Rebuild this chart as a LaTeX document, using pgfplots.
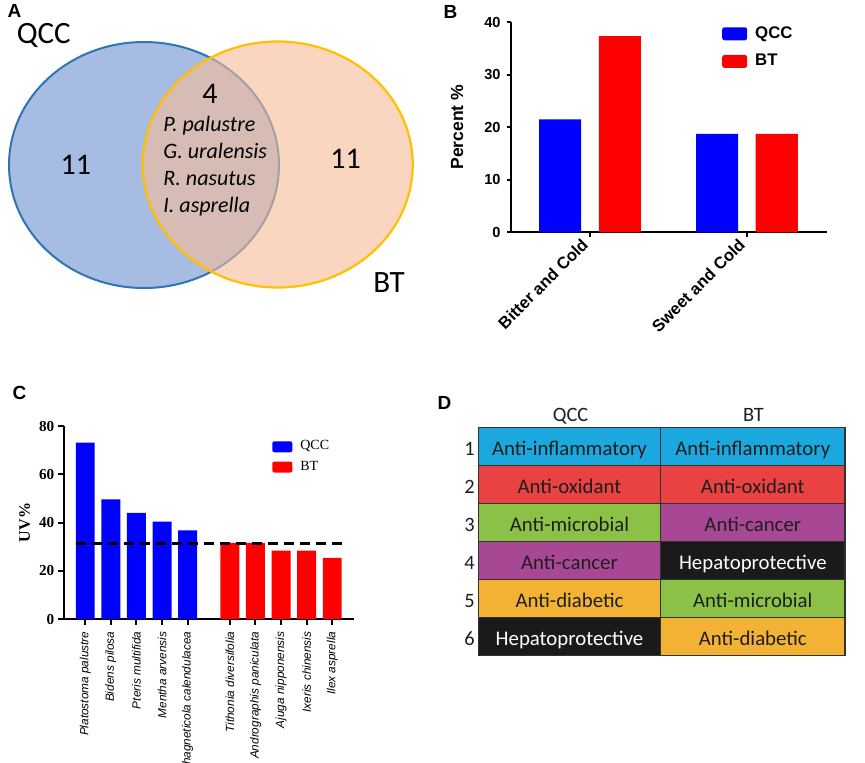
\documentclass[border=0pt]{standalone}
\usepackage{fontspec}
\usepackage{pgfplots}
\pgfplotsset{compat=1.18}
\setmainfont{Liberation Sans}
\newfontfamily\calibri{Carlito}
\newfontfamily\arial{Liberation Sans}
\newfontfamily\tnr{Liberation Serif}

\definecolor{qccblue}{RGB}{0,0,255}
\definecolor{btred}{RGB}{255,0,0}
\definecolor{vennblue}{RGB}{166,188,226}
\definecolor{vennblueedge}{RGB}{46,117,182}
\definecolor{vennorange}{RGB}{247,188,150}
\definecolor{vennorangeedge}{RGB}{255,192,0}
\definecolor{cCyan}{RGB}{27,168,222}
\definecolor{cRed}{RGB}{232,66,66}
\definecolor{cGreen}{RGB}{140,193,72}
\definecolor{cPurple}{RGB}{168,72,148}
\definecolor{cOrange}{RGB}{243,178,52}
\definecolor{cBlack}{RGB}{26,26,26}
\definecolor{cText}{RGB}{30,30,30}
\definecolor{cEdge}{RGB}{50,50,50}

\newcommand\fs[1]{\fontsize{#1}{#1}\selectfont}

% 1 px of the reference = 0.5pt, y runs downwards as negative
\begin{document}
\begin{tikzpicture}
\useasboundingbox (0,0) rectangle (432.5pt,-381pt);
\clip (0,0) rectangle (432.5pt,-381pt);
\fill[white] (0,0) rectangle (432.5pt,-381pt);

% panel letters
\node[font=\arial\bfseries\fs{9.5}] at (7.25pt,-5.4pt) {A};
\node[font=\arial\bfseries\fs{9.5}] at (225.25pt,-5.75pt) {B};
\node[font=\arial\bfseries\fs{9.5}] at (9.8pt,-196.7pt) {C};
\node[font=\arial\bfseries\fs{9.5}] at (222.25pt,-201.25pt) {D};

% ---------- A: Venn
\fill[vennblue] (72pt,-82.5pt) ellipse [x radius=67.5pt, y radius=61.5pt];
\draw[vennblueedge, line width=1pt] (72pt,-82.5pt) ellipse [x radius=67.5pt, y radius=61.5pt];
\fill[vennorange, fill opacity=0.6] (138.85pt,-82.25pt) ellipse [x radius=67.5pt, y radius=61.5pt];
\draw[vennorangeedge, line width=1.1pt] (138.85pt,-82.25pt) ellipse [x radius=67.5pt, y radius=61.5pt];

\node[font=\calibri\fs{15.5}] at (21.9pt,-17.9pt) {QCC};
\node[font=\calibri\fs{15.5}] at (194.5pt,-141.5pt) {BT};
\node[font=\calibri\fs{15}] at (37.9pt,-82.5pt) {11};
\node[font=\calibri\fs{15}] at (172.75pt,-79.3pt) {11};
\node[font=\calibri\fs{15}] at (105pt,-47pt) {4};
\begin{scope}[every node/.style={anchor=base west, inner sep=0pt, font=\calibri\itshape\fs{11}}]
\node at (81.5pt,-65.85pt) {P. palustre};
\node at (81.5pt,-79.15pt) {G. uralensis};
\node at (81.5pt,-92.85pt) {R. nasutus};
\node at (81.5pt,-106.35pt) {I. asprella};
\end{scope}

% ---------- B: bar chart
\begin{axis}[
  at={(255.5pt,-116.15pt)}, anchor=south west,
  width=158pt, height=105.15pt, scale only axis,
  ybar, bar width=0.268,
  xmin=-0.503, xmax=1.51, ymin=0, ymax=40,
  axis lines=left, axis line style={-, line width=1pt},
  tick style={line width=1pt, black}, tick align=outside,
  major tick length=2.2pt,
  xtick={0,1}, xticklabels={Bitter and Cold, Sweet and Cold},
  ytick={0,10,20,30,40},
  /pgf/number format/assume math mode=true,
  yticklabel style={font=\arial\bfseries\fs{7.3}, xshift=0.5pt},
  xticklabel style={font=\arial\bfseries\fs{8.3}, rotate=45, anchor=east},
  ylabel={Percent \%},
  ylabel style={font=\arial\bfseries\fs{8.8}, at={(axis description cs:-0.171,0.5)}, anchor=center},
  legend style={at={(0.667,1.0)}, anchor=north west, draw=none, fill=none,
    font=\arial\bfseries\fs{8.4}, row sep=2.5pt, inner sep=0pt},
  legend cell align=left,
  legend image code/.code={\fill[rounded corners=1.2pt] (0pt,-3.25pt) rectangle (12.5pt,3.25pt);
    \path (14.5pt,0pt);},
]
\addplot[fill=qccblue, draw=none, bar shift=-0.19] coordinates {(0,21.5) (1,18.7)};
\addplot[fill=btred, draw=none, bar shift=0.19] coordinates {(0,37.3) (1,18.7)};
\legend{QCC, BT}
\end{axis}

% ---------- C: UV% bar chart
\begin{axis}[
  at={(32pt,-309.5pt)}, anchor=south west,
  width=145pt, height=96.5pt, scale only axis,
  xmin=-0.83, xmax=10.5, ymin=0, ymax=80,
  axis lines=left, axis line style={-, line width=1pt},
  tick style={line width=1pt, black}, tick align=outside,
  major tick length=2.8pt,
  xtick={0,1,2,3,4,5.65,6.65,7.65,8.65,9.65},
  xticklabels={Platostoma palustre, Bidens pilosa, Pteris multifida, Mentha arvensis,
    Sphagneticola calendulacea, Tithonia diversifolia, Andrographis paniculata,
    Ajuga nipponensis, Ixeris chinensis, Ilex asprella},
  ytick={0,20,40,60,80},
  /pgf/number format/assume math mode=true,
  yticklabel style={font=\tnr\bfseries\fs{7.6}, xshift=1.5pt},
  xticklabel style={font=\arial\itshape\fs{5.9}, rotate=90, anchor=east},
  ylabel={UV\%},
  ylabel style={font=\tnr\bfseries\fs{8}, at={(axis description cs:-0.136,0.5)}, anchor=center},
  legend style={at={(0.717,0.947)}, anchor=north west, draw=none, fill=none,
    font=\tnr\fs{7}, row sep=0pt, inner sep=0pt},
  legend cell align=left,
  legend image code/.code={\fill[rounded corners=1pt] (0pt,-2.75pt) rectangle (10pt,2.75pt);
    \path (12pt,0pt);},
]
\addplot[ybar, bar width=0.74, bar shift=0, fill=qccblue, draw=none]
  coordinates {(0,73.1) (1,49.6) (2,44.0) (3,40.4) (4,36.7)};
\addplot[ybar, bar width=0.74, bar shift=0, fill=btred, draw=none]
  coordinates {(5.65,31.6) (6.65,31.6) (7.65,28.4) (8.65,28.4) (9.65,25.3)};
\addplot[black, line width=1.4pt, dash pattern=on 5pt off 3pt, forget plot]
  coordinates {(-0.36,31.4) (10.26,31.4)};
\legend{QCC, BT}
\end{axis}

% ---------- D: table of activities
\node[anchor=base, font=\calibri\fs{10.2}, text=cText] at (285.25pt,-210.85pt) {QCC};
\node[anchor=base, font=\calibri\fs{10.2}, text=cText] at (376.7pt,-210.85pt) {BT};
\foreach \r/\ca/\ka/\ta/\cb/\kb/\tb in {
  0/cCyan/cText/Anti-inflammatory/cCyan/cText/Anti-inflammatory,
  1/cRed/cText/Anti-oxidant/cRed/cText/Anti-oxidant,
  2/cGreen/cText/Anti-microbial/cPurple/cText/Anti-cancer,
  3/cPurple/cText/Anti-cancer/cBlack/white/Hepatoprotective,
  4/cOrange/cText/Anti-diabetic/cGreen/cText/Anti-microbial,
  5/cBlack/white/Hepatoprotective/cOrange/cText/Anti-diabetic}{
  \pgfmathsetmacro\yt{-213.85-19*\r}
  \pgfmathsetmacro\yb{\yt-19}
  \pgfmathsetmacro\ybase{-227.5-19*\r}
  \pgfmathtruncatemacro\n{\r+1}
  \fill[\ca] (239.15pt,\yt pt) rectangle (330.35pt,\yb pt);
  \fill[\cb] (330.35pt,\yt pt) rectangle (422.5pt,\yb pt);
  \node[anchor=base, text=\ka, font=\calibri\fs{10.4}] at (284.75pt,\ybase pt) {\ta};
  \node[anchor=base, text=\kb, font=\calibri\fs{10.4}] at (376.4pt,\ybase pt) {\tb};
  \node[anchor=base east, inner sep=0pt, text=cText, font=\calibri\fs{10.2}] at (237.6pt,\ybase pt) {\n};
}
\draw[cEdge, line width=0.7pt] (239.15pt,-213.85pt) rectangle (422.5pt,-327.85pt);
\draw[cEdge, line width=0.7pt] (330.35pt,-213.85pt) -- (330.35pt,-327.85pt);
\foreach \r in {1,...,5}{
  \pgfmathsetmacro\yl{-213.85-19*\r}
  \draw[cEdge, line width=0.7pt] (239.15pt,\yl pt) -- (422.5pt,\yl pt);
}
\end{tikzpicture}
\end{document}
